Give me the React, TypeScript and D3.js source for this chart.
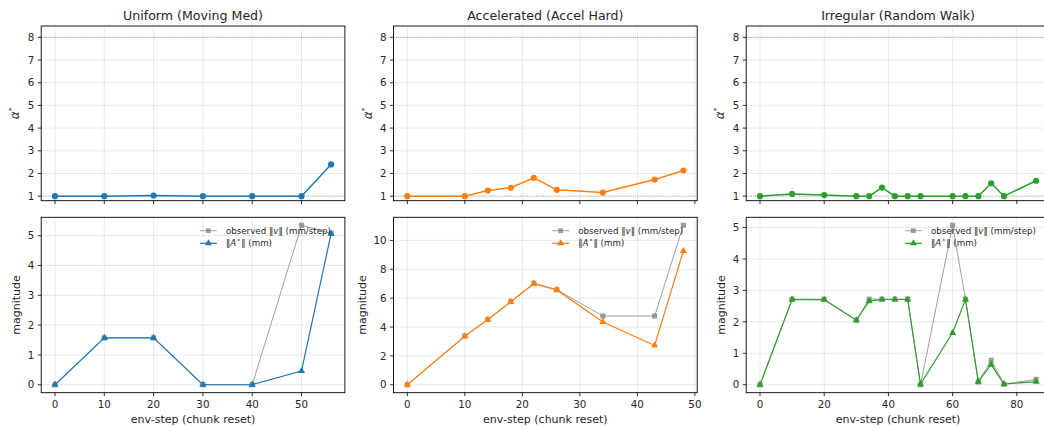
import * as d3 from "d3";

// env-step at each chunk reset, per scenario
const uniformSteps = [0, 10, 20, 30, 40, 50, 56];
const uniformAlpha = [1, 1, 1.03, 1, 1, 1, 2.4];
const uniformObserved = [0, 1.57, 1.57, 0, 0, 5.35, 5.08];
const uniformA = [0, 1.57, 1.57, 0, 0, 0.46, 5.07];

const accelSteps = [0, 10, 14, 18, 22, 26, 34, 43, 48];
const accelAlpha = [1, 1, 1.25, 1.37, 1.81, 1.28, 1.16, 1.73, 2.13];
const accelObserved = [0, 3.37, 4.52, 5.76, 7.03, 6.58, 4.76, 4.76, 11.05];
const accelA = [0, 3.36, 4.52, 5.75, 7.0, 6.57, 4.35, 2.72, 9.27];

const walkSteps = [0, 10, 20, 30, 34, 38, 42, 46, 50, 60, 64, 68, 72, 76, 86];
const walkAlpha = [1, 1.1, 1.05, 1, 1, 1.38, 1, 1, 1, 1, 1, 1, 1.57, 1, 1.68];
const walkObserved = [0, 2.72, 2.72, 2.05, 2.72, 2.72, 2.72, 2.72, 0, 5.07, 2.72, 0.09, 0.78, 0.02, 0.17];
const walkA = [0, 2.71, 2.7, 2.05, 2.66, 2.71, 2.71, 2.71, 0.02, 1.65, 2.71, 0.1, 0.64, 0.02, 0.1];

const titles = ["Uniform (Moving Med)", "Accelerated (Accel Hard)", "Irregular (Random Walk)"];
const colors = ["#1f77b4", "#ff7f0e", "#2ca02c"];
const alphaLimits = [0.8, 8.5];
const alphaTicks = [1, 2, 3, 4, 5, 6, 7, 8];

const panels = [
  {steps: uniformSteps, alpha: uniformAlpha, observed: uniformObserved, a: uniformA},
  {steps: accelSteps, alpha: accelAlpha, observed: accelObserved, a: accelA},
  {steps: walkSteps, alpha: walkAlpha, observed: walkObserved, a: walkA},
];

const W = 1044;
const H = 427;
const font = "DejaVu Sans, sans-serif";
const ink = "#262626";
const tickSize = 10.3;
const labelSize = 11;

const lefts = [41.2, 393.5, 746.2];
const plotW = 303.7;
const topBox = {y0: 26, y1: 200.7};
const botBox = {y0: 217.3, y1: 392.7};

function padded(lo: number, hi: number) {
  const m = (hi - lo) * 0.05;
  return [lo - m, hi + m];
}

function Panel({idx}: {idx: number}) {
  const p = panels[idx];
  const color = colors[idx];
  const left = lefts[idx];
  const right = left + plotW;

  const x = d3.scaleLinear().domain(padded(d3.min(p.steps)!, d3.max(p.steps)!)).range([left, right]);
  const xTicks = x.ticks(6);

  const yTop = d3.scaleLinear().domain(alphaLimits).range([topBox.y1, topBox.y0]);
  const allMag = p.observed.concat(p.a);
  const yBot = d3.scaleLinear().domain(padded(d3.min(allMag)!, d3.max(allMag)!)).range([botBox.y1, botBox.y0]);
  const yBotTicks = yBot.ticks(6).filter(t => t >= yBot.domain()[0] && t <= yBot.domain()[1]);

  const pts = (ys: number[], yScale: d3.ScaleLinear<number, number>) =>
    p.steps.map((s, i) => [x(s), yScale(ys[i])] as [number, number]);
  const line = d3.line();

  const alphaPts = pts(p.alpha, yTop);
  const obsPts = pts(p.observed, yBot);
  const aPts = pts(p.a, yBot);
  const tri = d3.symbol().type(d3.symbolTriangle).size(22)()!;

  const clipTop = `clip-top-${idx}`;
  const clipBot = `clip-bot-${idx}`;
  const cx = (left + right) / 2;
  const legX = right - 119;

  return (
    <g>
      <defs>
        <clipPath id={clipTop}>
          <rect x={left} y={topBox.y0} width={plotW} height={topBox.y1 - topBox.y0} />
        </clipPath>
        <clipPath id={clipBot}>
          <rect x={left} y={botBox.y0} width={plotW} height={botBox.y1 - botBox.y0} />
        </clipPath>
      </defs>

      {/* top: alpha* */}
      <g>
        {xTicks.map(t => (
          <line key={"gx" + t} x1={x(t)} x2={x(t)} y1={topBox.y0} y2={topBox.y1} stroke="#b0b0b0" strokeOpacity={0.35} strokeWidth={0.8} />
        ))}
        {alphaTicks.map(t => (
          <line key={"gy" + t} x1={left} x2={right} y1={yTop(t)} y2={yTop(t)} stroke="#b0b0b0" strokeOpacity={0.35} strokeWidth={0.8} />
        ))}
        <line x1={left} x2={right} y1={yTop(8)} y2={yTop(8)} stroke="red" strokeOpacity={0.6} strokeWidth={0.8} strokeDasharray="1,1.3" />
        <line x1={left} x2={right} y1={yTop(1)} y2={yTop(1)} stroke="gray" strokeOpacity={0.7} strokeWidth={0.8} strokeDasharray="1,1.3" />
        <g clipPath={`url(#${clipTop})`}>
          <path d={line(alphaPts)!} fill="none" stroke={color} strokeWidth={1.5} />
          {alphaPts.map((q, i) => <circle key={i} cx={q[0]} cy={q[1]} r={3.1} fill={color} />)}
        </g>
        <rect x={left} y={topBox.y0} width={plotW} height={topBox.y1 - topBox.y0} fill="none" stroke="#000" strokeWidth={0.9} />
        {xTicks.map(t => (
          <line key={"tx" + t} x1={x(t)} x2={x(t)} y1={topBox.y1} y2={topBox.y1 + 3.5} stroke="#000" strokeWidth={0.8} />
        ))}
        {alphaTicks.map(t => (
          <g key={"ty" + t}>
            <line x1={left - 3.5} x2={left} y1={yTop(t)} y2={yTop(t)} stroke="#000" strokeWidth={0.8} />
            <text x={left - 7} y={yTop(t)} dy="0.36em" textAnchor="end" fontSize={tickSize} fill={ink} fontFamily={font}>{t}</text>
          </g>
        ))}
        <text x={cx} y={19.5} textAnchor="middle" fontSize={12.6} fill={ink} fontFamily={font}>{titles[idx]}</text>
        <text transform={`translate(${left - 22},${(topBox.y0 + topBox.y1) / 2}) rotate(-90)`} textAnchor="middle" fontSize={12} fill={ink} fontFamily={font}>
          <tspan fontStyle="italic">α</tspan>
          <tspan dy="-5" fontSize={7.5}>*</tspan>
        </text>
      </g>

      {/* bottom: magnitudes */}
      <g>
        {xTicks.map(t => (
          <line key={"bgx" + t} x1={x(t)} x2={x(t)} y1={botBox.y0} y2={botBox.y1} stroke="#b0b0b0" strokeOpacity={0.35} strokeWidth={0.8} />
        ))}
        {yBotTicks.map(t => (
          <line key={"bgy" + t} x1={left} x2={right} y1={yBot(t)} y2={yBot(t)} stroke="#b0b0b0" strokeOpacity={0.35} strokeWidth={0.8} />
        ))}
        <g clipPath={`url(#${clipBot})`}>
          <path d={line(obsPts)!} fill="none" stroke="gray" strokeOpacity={0.75} strokeWidth={1} />
          {obsPts.map((q, i) => (
            <rect key={"s" + i} x={q[0] - 2.6} y={q[1] - 2.6} width={5.2} height={5.2} fill="gray" fillOpacity={0.75} />
          ))}
          <path d={line(aPts)!} fill="none" stroke={color} strokeWidth={1.2} />
          {aPts.map((q, i) => (
            <path key={"t" + i} d={tri} transform={`translate(${q[0]},${q[1]})`} fill={color} />
          ))}
        </g>
        <rect x={left} y={botBox.y0} width={plotW} height={botBox.y1 - botBox.y0} fill="none" stroke="#000" strokeWidth={0.9} />
        {xTicks.map(t => (
          <g key={"btx" + t}>
            <line x1={x(t)} x2={x(t)} y1={botBox.y1} y2={botBox.y1 + 3.5} stroke="#000" strokeWidth={0.8} />
            <text x={x(t)} y={408.3} textAnchor="middle" fontSize={tickSize} fill={ink} fontFamily={font}>{t}</text>
          </g>
        ))}
        {yBotTicks.map(t => (
          <g key={"bty" + t}>
            <line x1={left - 3.5} x2={left} y1={yBot(t)} y2={yBot(t)} stroke="#000" strokeWidth={0.8} />
            <text x={left - 7} y={yBot(t)} dy="0.36em" textAnchor="end" fontSize={tickSize} fill={ink} fontFamily={font}>{t}</text>
          </g>
        ))}
        <text x={cx} y={422.5} textAnchor="middle" fontSize={labelSize} fill={ink} fontFamily={font}>env-step (chunk reset)</text>
        <text transform={`translate(${left - (idx === 1 ? 31 : 25)},${(botBox.y0 + botBox.y1) / 2}) rotate(-90)`} dy="0.35em" textAnchor="middle" fontSize={labelSize} fill={ink} fontFamily={font}>magnitude</text>

        {/* legend */}
        <g fontFamily={font} fontSize={8.7} fill={ink}>
          <line x1={legX - 26} x2={legX - 9} y1={botBox.y0 + 13.4} y2={botBox.y0 + 13.4} stroke="gray" strokeOpacity={0.75} strokeWidth={1} />
          <rect x={legX - 20} y={botBox.y0 + 11} width={4.8} height={4.8} fill="gray" fillOpacity={0.75} />
          <text x={legX} y={botBox.y0 + 13.4} dy="0.35em">
            observed ‖<tspan fontStyle="italic">v</tspan>‖ (mm/step)
          </text>
          <line x1={legX - 26} x2={legX - 9} y1={botBox.y0 + 26} y2={botBox.y0 + 26} stroke={color} strokeWidth={1.2} />
          <path d={tri} transform={`translate(${legX - 17.5},${botBox.y0 + 26})`} fill={color} />
          <text x={legX} y={botBox.y0 + 26} dy="0.35em">
            ‖<tspan fontStyle="italic">A</tspan><tspan dx="1" dy="-3" fontSize={6}>*</tspan><tspan dx="1" dy="3">‖ (mm)</tspan>
          </text>
        </g>
      </g>
    </g>
  );
}

export default function App() {
  return (
    <svg width={W} height={H} style={{position: "absolute", left: 0, top: 0, background: "#fff"}}>
      <rect width={W} height={H} fill="#fff" />
      {panels.map((_, i) => <Panel key={i} idx={i} />)}
    </svg>
  );
}
